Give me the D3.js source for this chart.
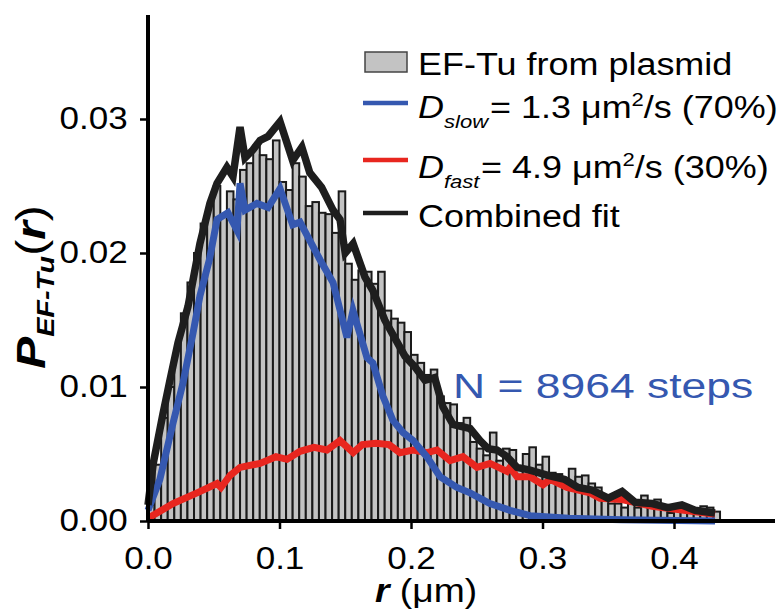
<!DOCTYPE html>
<html>
<head>
<meta charset="utf-8">
<script src="https://cdn.jsdelivr.net/npm/d3@7"></script>
<style>
  body { margin: 0; background: #fff; }
  text { font-family: "Liberation Sans", Arial, sans-serif; }
</style>
</head>
<body>
<div id="container"></div>
<script>
// histogram of step sizes, bin width 0.005 um, bins start at 0
var binWidth = 0.005;
var histVals = [0.0012, 0.0042, 0.0077, 0.0100, 0.0128, 0.0155, 0.0178, 0.0200, 0.0222, 0.0236,
  0.0250, 0.0228, 0.0246, 0.0240, 0.0262, 0.0267, 0.0280, 0.0273, 0.0270, 0.0284,
  0.0253, 0.0247, 0.0267, 0.0257, 0.0235, 0.0238, 0.0230, 0.0229, 0.0215, 0.0246,
  0.0192, 0.0180, 0.0187, 0.0186, 0.0177, 0.0186, 0.0157, 0.0151, 0.0148, 0.0141,
  0.0124, 0.0118, 0.0109, 0.0113, 0.0093, 0.0088, 0.0087, 0.0073, 0.0077, 0.0059,
  0.0054, 0.0049, 0.0066, 0.0045, 0.0054, 0.0053, 0.0038, 0.0050, 0.0055, 0.0042,
  0.0048, 0.0036, 0.0035, 0.0032, 0.0039, 0.0033, 0.0034, 0.0028, 0.0025, 0.0019,
  0.0013, 0.0013, 0.0010, 0.0013, 0.0010, 0.0019, 0.0010, 0.0016, 0.0009, 0.0006,
  0.0008, 0.0008, 0.0006, 0.0007, 0.0011, 0.0010, 0.0007];

// combined fit (black)
var rBlack = [0, 0.004, 0.0114, 0.0167, 0.0228, 0.0304, 0.0395, 0.0471, 0.0525, 0.060,
  0.0646, 0.070, 0.0738, 0.0798, 0.0852, 0.0913, 0.1004, 0.110, 0.117, 0.123,
  0.132, 0.1407, 0.146, 0.150, 0.156, 0.165, 0.171, 0.180, 0.1954, 0.203,
  0.2106, 0.218, 0.2243, 0.232, 0.245, 0.2525, 0.2586, 0.2654, 0.273, 0.2806,
  0.2905, 0.304, 0.317, 0.327, 0.3376, 0.350, 0.3605, 0.3703, 0.3833, 0.3954,
  0.406, 0.416, 0.4312];
var pBlack = [0.0012, 0.0043, 0.0080, 0.0105, 0.0133, 0.0160, 0.0207, 0.0237, 0.0252, 0.0264,
  0.0257, 0.0294, 0.0271, 0.0277, 0.0284, 0.0287, 0.0298, 0.0269, 0.0279, 0.0260,
  0.0249, 0.0232, 0.0225, 0.0200, 0.0207, 0.0182, 0.0172, 0.0150, 0.0123, 0.0115,
  0.0105, 0.0107, 0.0085, 0.0072, 0.0069, 0.0060, 0.0054, 0.0053, 0.0048, 0.0040,
  0.0038, 0.0034, 0.0031, 0.0025, 0.0023, 0.0017, 0.0022, 0.0014, 0.0013, 0.0010,
  0.0012, 0.0008, 0.0006];

// slow component (blue)
var rBlue = [0, 0.009, 0.019, 0.0266, 0.0342, 0.0395, 0.0467, 0.0525, 0.0608, 0.0677,
  0.070, 0.0738, 0.0829, 0.0913, 0.1004, 0.110, 0.1156, 0.1308, 0.1407, 0.1513,
  0.1559, 0.1665, 0.171, 0.1787, 0.1863, 0.1939, 0.2016, 0.212, 0.2221, 0.2349,
  0.2449, 0.26, 0.2753, 0.2905, 0.32, 0.36, 0.4312];
var pBlue = [0.0008, 0.0031, 0.0073, 0.0103, 0.0140, 0.0168, 0.0195, 0.0225, 0.0230, 0.0217,
  0.0252, 0.0232, 0.0237, 0.0234, 0.0248, 0.0221, 0.0223, 0.0195, 0.0178, 0.0137,
  0.0157, 0.0122, 0.0118, 0.0093, 0.0075, 0.0066, 0.0060, 0.0048, 0.0033, 0.0025,
  0.0021, 0.0013, 0.0008, 0.0004, 0.0002, 0.0001, 0.0000];

// fast component (red)
var rRed = [0, 0.019, 0.0373, 0.0525, 0.0555, 0.0624, 0.070, 0.0852, 0.0973, 0.1057,
  0.1156, 0.1262, 0.1361, 0.146, 0.156, 0.163, 0.1734, 0.1833, 0.1916, 0.2016,
  0.2122, 0.2198, 0.2297, 0.2395, 0.2502, 0.2601, 0.273, 0.2753, 0.2806, 0.2905,
  0.3004, 0.3057, 0.3186, 0.3361, 0.3437, 0.3605, 0.3833, 0.40, 0.4312];
var pRed = [0.0002, 0.0013, 0.0021, 0.0028, 0.0025, 0.0034, 0.0040, 0.0043, 0.0048, 0.0046,
  0.0052, 0.0055, 0.0053, 0.0060, 0.0051, 0.0057, 0.0058, 0.0057, 0.0051, 0.0053,
  0.0051, 0.0053, 0.0045, 0.0048, 0.0040, 0.0043, 0.0037, 0.0040, 0.0033, 0.0033,
  0.0027, 0.0031, 0.0025, 0.0021, 0.0017, 0.0016, 0.0011, 0.0009, 0.0005];

var xTicks = [0, 0.1, 0.2, 0.3, 0.4];
var yTicks = [0, 0.01, 0.02, 0.03];
var nLabel = "N = 8964 steps";

var blue = "#3558b0", red = "#e8261f", black = "#1e1e1e";
var sx = 1.13; // text in the figure is a bit wide

var w = 784, h = 613;
var svg = d3.select("#container").append("svg")
  .attr("width", w).attr("height", h)
  .style("background", "#fff");

var x = d3.scaleLinear().domain([0, 0.4768]).range([148, 775]);
var y = d3.scaleLinear().domain([0, 0.03776]).range([521, 15]);

//histogram bars
svg.append("g").selectAll("rect")
  .data(histVals)
  .enter().append("rect")
  .attr("x", function(d, i) { return x(i * binWidth); })
  .attr("width", function(d, i) { return x((i + 1) * binWidth) - x(i * binWidth); })
  .attr("y", function(d) { return y(d); })
  .attr("height", function(d) { return y(0) - y(d); })
  .attr("fill", "#c3c3c3")
  .attr("stroke", "#1a1a1a")
  .attr("stroke-width", 2);

//fit lines
var line = d3.line()
  .x(function(d) { return x(d[0]); })
  .y(function(d) { return y(d[1]); });

function drawLine(rs, ps, col, sw) {
  svg.append("path")
    .datum(d3.zip(rs, ps))
    .attr("d", line)
    .attr("fill", "none")
    .attr("stroke", col)
    .attr("stroke-width", sw)
    .attr("stroke-linejoin", "miter");
}
drawLine(rRed, pRed, red, 7);
drawLine(rBlue, pBlue, blue, 7);
drawLine(rBlack, pBlack, black, 7.5);

//axes
var yAxis = svg.append("g")
  .attr("transform", "translate(148,0)")
  .call(d3.axisLeft(y).tickValues(yTicks).tickFormat(d3.format(".2f"))
    .tickSize(8).tickSizeOuter(0).tickPadding(10));
var xAxis = svg.append("g")
  .attr("transform", "translate(0,521)")
  .call(d3.axisBottom(x).tickValues(xTicks).tickFormat(d3.format(".1f"))
    .tickSize(8).tickSizeOuter(0).tickPadding(18));

yAxis.select(".domain").attr("d", "M0," + y(0) + "V15").attr("stroke-width", 4).attr("stroke", "#000");
xAxis.select(".domain").attr("d", "M148,0H775").attr("stroke-width", 4).attr("stroke", "#000");
svg.selectAll(".tick line").attr("stroke-width", 2.5).attr("stroke", "#000");
svg.selectAll(".tick text")
  .attr("font-size", 31)
  .attr("font-family", "Liberation Sans, Arial, sans-serif")
  .attr("fill", "#000")
  .attr("transform", "scale(" + sx + ",1)");

// helper for wide text
function wideText(px, py, s, fs, k) {
  var t = svg.append("g")
    .attr("transform", "translate(" + px + "," + py + ") scale(" + (k || 1.16) + ",1)")
    .append("text")
    .attr("font-size", fs || 31)
    .attr("fill", "#000");
  if (s) t.text(s);
  return t;
}

//axis titles
var xt = wideText(375, 602, null, 33, sx);
xt.append("tspan").attr("font-weight", "bold").attr("font-style", "italic").text("r");
xt.append("tspan").text(" (\u03bcm)");

var ytg = svg.append("g").attr("transform", "translate(45,287) rotate(-90) scale(1.2,1)");
var yt = ytg.append("text").attr("font-size", 40).attr("text-anchor", "middle").attr("fill", "#000");
yt.append("tspan").attr("font-weight", "bold").attr("font-style", "italic").text("P");
yt.append("tspan").attr("font-weight", "bold").attr("font-style", "italic")
  .attr("font-size", 24).attr("dy", 9).text("EF-Tu");
yt.append("tspan").attr("dy", -9).text("(");
yt.append("tspan").attr("font-weight", "bold").attr("font-style", "italic").text("r");
yt.append("tspan").text(")");

//legend
var leg = svg.append("g");
leg.append("rect").attr("x", 365).attr("y", 52).attr("width", 42).attr("height", 20)
  .attr("fill", "#c3c3c3").attr("stroke", "#444").attr("stroke-width", 1.5);
leg.append("line").attr("x1", 363).attr("x2", 408).attr("y1", 103).attr("y2", 103)
  .attr("stroke", blue).attr("stroke-width", 4.5);
leg.append("line").attr("x1", 363).attr("x2", 408).attr("y1", 160).attr("y2", 160)
  .attr("stroke", red).attr("stroke-width", 4.5);
leg.append("line").attr("x1", 363).attr("x2", 408).attr("y1", 213).attr("y2", 213)
  .attr("stroke", black).attr("stroke-width", 4.5);

wideText(418, 75, "EF-Tu from plasmid");

function dRow(py, sub, rest, eqx) {
  var k = 1.16;
  var t = wideText(418, py, null);
  t.append("tspan").attr("font-style", "italic").text("D");
  t.append("tspan").attr("font-style", "italic").attr("font-size", 19).attr("dy", 10).text(sub);
  t.append("tspan").attr("x", (eqx - 418) / k).attr("dy", -10).text(rest[0]);
  t.append("tspan").attr("font-size", 19).attr("dy", -12).text("2");
  t.append("tspan").attr("dy", 12).text(rest[1]);
}
dRow(118, "slow", ["= 1.3 \u03bcm", "/s (70%)"], 490);
dRow(178, "fast", ["= 4.9 \u03bcm", "/s (30%)"], 481);

wideText(418, 227, "Combined fit");

wideText(453, 398, nLabel, 35, 1.27).attr("fill", blue);
</script>
</body>
</html>
